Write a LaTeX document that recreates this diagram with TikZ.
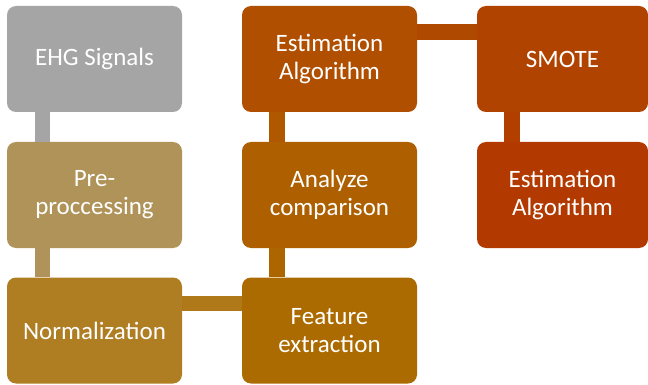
\documentclass[tikz,border=0pt]{standalone}
\usepackage{fontspec}
\setmainfont{Carlito}
\usetikzlibrary{calc}
\definecolor{cgray}{HTML}{A5A5A5}
\definecolor{cpre}{HTML}{AF9359}
\definecolor{cnorm}{HTML}{AF7D22}
\definecolor{cfeat}{HTML}{AC6B00}
\definecolor{cana}{HTML}{AE6000}
\definecolor{cest}{HTML}{B04F00}
\definecolor{csmote}{HTML}{B14300}
\definecolor{cest2}{HTML}{B23900}
\definecolor{kpre}{HTML}{B0935A}
\definecolor{knorm}{HTML}{AF7818}
\definecolor{kfeat}{HTML}{AD6500}
\definecolor{kana}{HTML}{AF5800}
\definecolor{kest}{HTML}{B04900}
\definecolor{ksmote}{HTML}{B23E00}
\tikzset{
  stepbox/.style={rectangle, rounded corners=9pt, minimum width=175pt, minimum height=106pt,
    inner sep=0pt, align=center, text=white, font=\fontsize{25}{28}\selectfont},
}
\begin{document}
\begin{tikzpicture}[x=1pt,y=-1pt]
\useasboundingbox (0,0) rectangle (648,385);
\begin{scope}
\clip (0,0) rectangle (648,385);
\node[stepbox, fill=cgray] (ehg) at (94.5,59) {EHG Signals};
\node[stepbox, fill=cpre] (pre) at (94.5,195) {Pre-\\proccessing};
\node[stepbox, fill=cnorm] (norm) at (94.5,330.5) {Normalization};
\node[stepbox, fill=cfeat] (feat) at (329.5,330.5) {Feature\\extraction};
\node[stepbox, fill=cana] (ana) at (329.5,195) {Analyze\\comparison};
\node[stepbox, fill=cest] (est) at (329.5,59) {Estimation\\Algorithm};
\node[stepbox, fill=csmote, minimum width=171pt] (smote) at (562.5,59) {SMOTE};
\node[stepbox, fill=cest2, minimum width=171pt] (est2) at (562.5,195) {Estimation\\Algorithm};
% connectors
\fill[cgray] ($(ehg.south west)+(28,0)$) rectangle ($(pre.north west)+(43,0)$);
\fill[kpre] ($(pre.south west)+(28,0)$) rectangle ($(norm.north west)+(43,0)$);
\fill[knorm] ($(norm.north east)+(0,19)$) rectangle ($(feat.north west)+(0,34)$);
\fill[kfeat] ($(feat.north west)+(27,0)$) rectangle ($(ana.south west)+(43,0)$);
\fill[kana] ($(ana.north west)+(27,0)$) rectangle ($(est.south west)+(43,0)$);
\fill[kest] ($(est.north east)+(0,18)$) rectangle ($(smote.north west)+(0,34)$);
\fill[ksmote] ($(smote.south west)+(27,0)$) rectangle ($(est2.north west)+(43,0)$);
\end{scope}
\end{tikzpicture}
\end{document}
